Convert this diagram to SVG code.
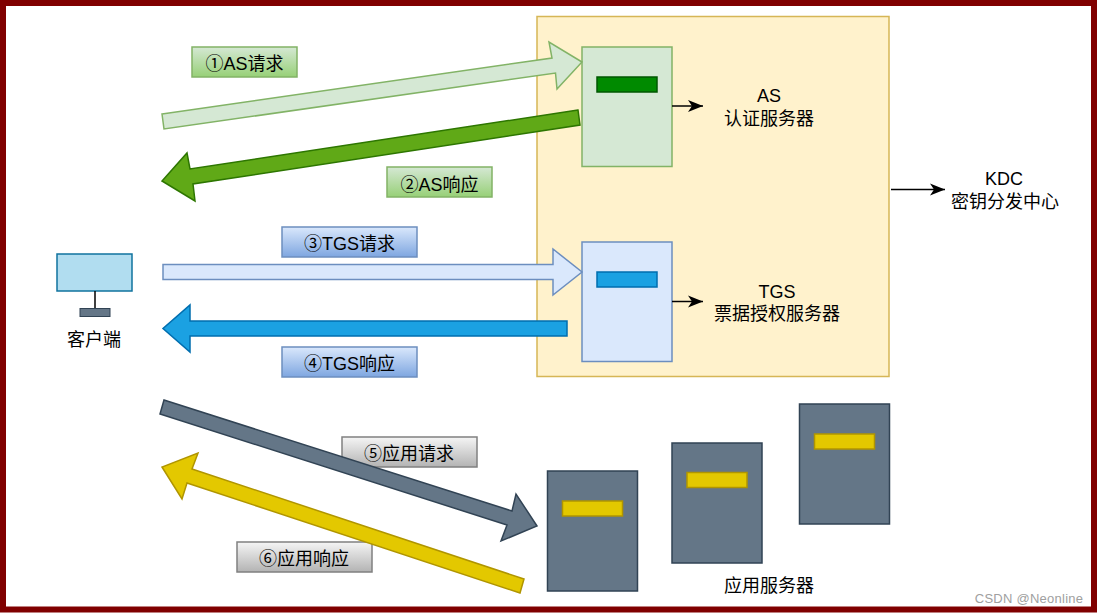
<svg xmlns="http://www.w3.org/2000/svg" width="1097" height="613" viewBox="0 0 1097 613">
<style>
text{font-family:"Liberation Sans","Noto Sans CJK SC",sans-serif;font-size:18px;fill:#000;text-anchor:middle}
.g{fill:url(#gg);stroke:#82b366;stroke-width:1.5}
.b{fill:url(#gb);stroke:#6c8ebf;stroke-width:1.5}
.k{fill:url(#gk);stroke:#808080;stroke-width:1.5}
.srv{fill:#647687;stroke:#314354;stroke-width:1.5}
.slot{fill:#e3c800;stroke:#b09500;stroke-width:1.5}
.a{stroke-width:1.5}
.line{stroke:#000;stroke-width:1.5;fill:none;marker-end:url(#ah)}
</style>
<defs>
<linearGradient id="gg" x1="0" y1="0" x2="0" y2="1"><stop offset="0" stop-color="#d5e8d4"/><stop offset="1" stop-color="#97d077"/></linearGradient>
<linearGradient id="gb" x1="0" y1="0" x2="0" y2="1"><stop offset="0" stop-color="#dae8fc"/><stop offset="1" stop-color="#7ea6e0"/></linearGradient>
<linearGradient id="gk" x1="0" y1="0" x2="0" y2="1"><stop offset="0" stop-color="#f5f5f5"/><stop offset="1" stop-color="#b3b3b3"/></linearGradient>
<marker id="ah" markerUnits="userSpaceOnUse" markerWidth="16" markerHeight="14" refX="15" refY="7" orient="auto"><path d="M0 1L15 7L0 13L4 7Z" fill="#000"/></marker>
</defs>
<rect x="0" y="0" width="1097" height="613" fill="#fff"/>
<g id="kdc"><rect x="537" y="16.500" width="352" height="360" fill="#fff2cc" stroke="#d6b656" stroke-width="1.500"/></g>
<g id="as-server"><rect x="582" y="47" width="90" height="119.500" fill="#d5e8d4" stroke="#82b366" stroke-width="1.500"/><rect x="597" y="77" width="60" height="15" fill="#008a00" stroke="#005700" stroke-width="1.500"/></g>
<g id="tgs-server"><rect x="582" y="242" width="90" height="119.500" fill="#dae8fc" stroke="#6c8ebf" stroke-width="1.500"/><rect x="597" y="272" width="60" height="15" fill="#1ba1e2" stroke="#006eaf" stroke-width="1.500"/></g>
<g id="app-server-1"><rect class="srv" x="547.500" y="471" width="90" height="120"/><rect class="slot" x="562.500" y="501" width="60" height="15"/></g>
<g id="app-server-2"><rect class="srv" x="672" y="443" width="90" height="120"/><rect class="slot" x="687" y="472.500" width="60" height="15"/></g>
<g id="app-server-3"><rect class="srv" x="799.500" y="404" width="90" height="120"/><rect class="slot" x="814.500" y="434" width="60" height="15"/></g>
<g id="client"><rect x="57" y="254" width="75" height="37" fill="#b1ddf0" stroke="#10739e" stroke-width="1.500"/><path d="M95 291V308" stroke="#000" stroke-width="1.500"/><rect x="80" y="308.500" width="30" height="8" fill="#647687" stroke="#314354" stroke-width="1"/><text x="94" y="346">客户端</text></g>
<g id="label-1"><rect class="g" x="192" y="47" width="105" height="30"/><text x="244.500" y="69.500">①AS请求</text></g>
<g id="label-2"><rect class="g" x="387" y="167" width="105" height="30"/><text x="439.500" y="190.500">②AS响应</text></g>
<g id="label-3"><rect class="b" x="282" y="227" width="135" height="30"/><text x="349.500" y="249.500">③TGS请求</text></g>
<g id="label-4"><rect class="b" x="282" y="347" width="135" height="30"/><text x="349.500" y="369.500">④TGS响应</text></g>
<g id="label-5"><rect class="k" x="342" y="437" width="135" height="30"/><text x="409" y="459.500">⑤应用请求</text></g>
<g id="label-6"><rect class="k" x="237" y="542" width="135" height="30"/><text x="304" y="564.500">⑥应用响应</text></g>
<g id="connectors">
<path class="a" d="M162 114L552 58L549 42L582 62L557 89L555.500 73L164 129Z" fill="#d5e8d4" stroke="#82b366"/>
<path class="a" d="M578 110L190 169L187 153L162 181L195 201L193 184L580 125Z" fill="#60a917" stroke="#2d7600"/>
<path class="a" d="M163 264.500H553V249L582 272L553 295V279.500H163Z" fill="#dae8fc" stroke="#6c8ebf"/>
<path class="a" d="M567 321H190V305L163 328.500L190 352V336H567Z" fill="#1ba1e2" stroke="#006eaf"/>
<path class="a" d="M164 400L512 511L516 494L537 526L501 541L507 525L160 414Z" fill="#647687" stroke="#314354"/>
<path class="a" d="M524 579L192 469L198 453L162 467L182 499L187 483L520 593Z" fill="#e3c800" stroke="#b09500"/>
<path class="line" d="M672 106H703"/>
<path class="line" d="M672 301.500H703"/>
<path class="line" d="M891 189.500H945"/>
</g>
<text x="769" y="102">AS</text><text x="769" y="124.500">认证服务器</text>
<text x="777" y="297.500">TGS</text><text x="777" y="320">票据授权服务器</text>
<text x="1004" y="184.500">KDC</text><text x="1005" y="207.500">密钥分发中心</text>
<text x="769" y="592">应用服务器</text>
<text x="1029" y="603" style="font-size:13px;fill:#a0a0a0;letter-spacing:.25px">CSDN @Neonline</text>
<rect x="3" y="3" width="1091" height="606.500" fill="none" stroke="#800000" stroke-width="6"/>
</svg>
